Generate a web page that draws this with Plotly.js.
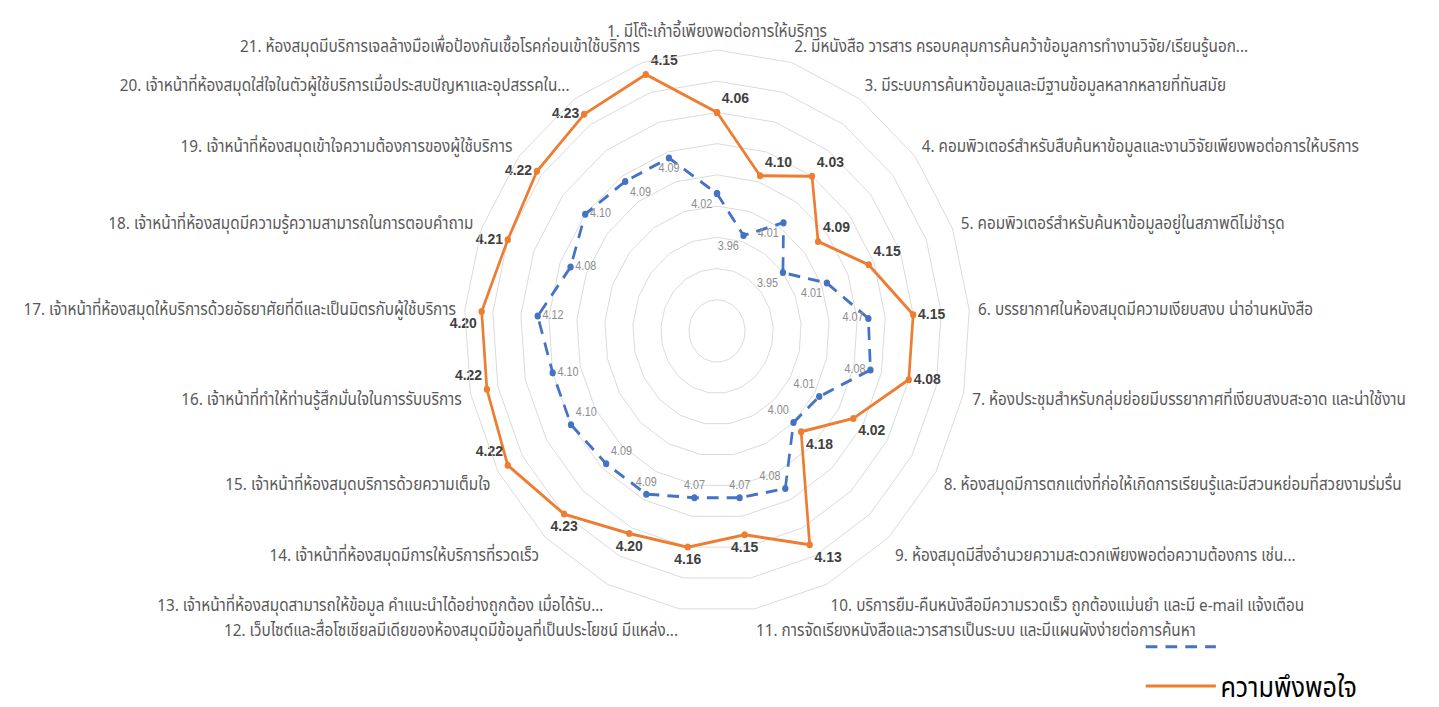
<!DOCTYPE html>
<html>
<head>
<meta charset="utf-8">
<script src="https://cdn.plot.ly/plotly-3.0.1.min.js"></script>
<style>
html,body{margin:0;padding:0;background:#ffffff;overflow:hidden;width:1439px;height:707px;}
#wrap{width:1439px;height:707px;overflow:hidden;position:relative;}
/* the reference picture is squeezed horizontally (its radar is an ellipse) */
#chart{width:1599px;height:707px;transform:scaleX(0.9);transform-origin:0 0;position:absolute;left:0;top:0;}
</style>
</head>
<body>
<div id="wrap"><div id="chart"></div></div>
<script>
// ---- data ----
const categories = [
  '1. มีโต๊ะเก้าอี้เพียงพอต่อการให้บริการ',
  '2. มีหนังสือ วารสาร ครอบคลุมการค้นคว้าข้อมูลการทำงานวิจัย/เรียนรู้นอก...',
  '3. มีระบบการค้นหาข้อมูลและมีฐานข้อมูลหลากหลายที่ทันสมัย',
  '4. คอมพิวเตอร์สำหรับสืบค้นหาข้อมูลและงานวิจัยเพียงพอต่อการให้บริการ',
  '5. คอมพิวเตอร์สำหรับค้นหาข้อมูลอยู่ในสภาพดีไม่ชำรุด',
  '6. บรรยากาศในห้องสมุดมีความเงียบสงบ น่าอ่านหนังสือ',
  '7. ห้องประชุมสำหรับกลุ่มย่อยมีบรรยากาศที่เงียบสงบสะอาด และน่าใช้งาน',
  '8. ห้องสมุดมีการตกแต่งที่ก่อให้เกิดการเรียนรู้และมีสวนหย่อมที่สวยงามร่มรื่น',
  '9. ห้องสมุดมีสิ่งอำนวยความสะดวกเพียงพอต่อความต้องการ เช่น...',
  '10. บริการยืม-คืนหนังสือมีความรวดเร็ว ถูกต้องแม่นยำ และมี e-mail แจ้งเตือน',
  '11. การจัดเรียงหนังสือและวารสารเป็นระบบ และมีแผนผังง่ายต่อการค้นหา',
  '12. เว็บไซต์และสื่อโซเชียลมีเดียของห้องสมุดมีข้อมูลที่เป็นประโยชน์ มีแหล่ง...',
  '13. เจ้าหน้าที่ห้องสมุดสามารถให้ข้อมูล คำแนะนำได้อย่างถูกต้อง เมื่อได้รับ...',
  '14. เจ้าหน้าที่ห้องสมุดมีการให้บริการที่รวดเร็ว',
  '15. เจ้าหน้าที่ห้องสมุดบริการด้วยความเต็มใจ',
  '16. เจ้าหน้าที่ทำให้ท่านรู้สึกมั่นใจในการรับบริการ',
  '17. เจ้าหน้าที่ห้องสมุดให้บริการด้วยอัธยาศัยที่ดีและเป็นมิตรกับผู้ใช้บริการ',
  '18. เจ้าหน้าที่ห้องสมุดมีความรู้ความสามารถในการตอบคำถาม',
  '19. เจ้าหน้าที่ห้องสมุดเข้าใจความต้องการของผู้ใช้บริการ',
  '20. เจ้าหน้าที่ห้องสมุดใส่ใจในตัวผู้ใช้บริการเมื่อประสบปัญหาและอุปสรรคใน...',
  '21. ห้องสมุดมีบริการเจลล้างมือเพื่อป้องกันเชื้อโรคก่อนเข้าใช้บริการ'
];
const expectationValues = [4.02, 3.96, 4.01, 3.95, 4.01, 4.07, 4.08, 4.01, 4.00, 4.08, 4.07,
                           4.07, 4.09, 4.09, 4.10, 4.10, 4.12, 4.08, 4.10, 4.09, 4.09];
const satisfactionValues = [4.15, 4.06, 4.10, 4.03, 4.09, 4.15, 4.15, 4.08, 4.02, 4.18, 4.13,
                            4.15, 4.16, 4.20, 4.23, 4.22, 4.22, 4.20, 4.21, 4.22, 4.23];
const expectationName = '';
const satisfactionName = 'ความพึงพอใจ';
const radialTicks = [3.80, 3.85, 3.90, 3.95, 4.00, 4.05, 4.10, 4.15, 4.20, 4.25];

// ---- styling: where each value label sits, as in the reference picture ----
const blueLabelPos = ['bottom left','bottom left','bottom left','bottom left','bottom left',
  'middle left','middle left','top left','top left','top left','top center','top center',
  'top center','top right','top right','middle right','middle right','middle right',
  'middle right','bottom right','bottom center'];
const orangeLabelPos = ['top right','top right','top right','top right','top right',
  'middle right','middle right','bottom right','bottom right','bottom right','bottom center',
  'bottom center','bottom center','bottom center','top left','top left','bottom left',
  'middle left','middle left','middle left','top right'];

const n = categories.length;
const close = a => a.concat([a[0]]);
const thetaC = close(categories);

const blueText = expectationValues.map(v => v.toFixed(2)).concat(['']);
// in the reference each orange value label sits beside the preceding point
const orangeText = satisfactionValues.map((v, i) => satisfactionValues[(i + 1) % n].toFixed(2)).concat(['']);

const numFont = 'Liberation Sans, Arial, sans-serif';
const thaiFont = 'Noto Sans Thai, Tahoma, Noto Sans, Liberation Sans, sans-serif';
const BLUE = '#4472C4', ORANGE = '#ED7D31';

const traces = [
  { // expectation line (legend entry)
    type: 'scatterpolar', name: expectationName, legendgroup: 'a',
    theta: thetaC, r: close(expectationValues), mode: 'lines',
    line: {color: BLUE, width: 3, dash: '13px,9px'}, hoverinfo: 'skip'
  },
  { // expectation markers + labels
    type: 'scatterpolar', name: expectationName, legendgroup: 'a', showlegend: false,
    theta: thetaC, r: close(expectationValues), mode: 'markers+text',
    marker: {color: BLUE, size: 7},
    text: blueText, textposition: blueLabelPos.concat(['top center']),
    textfont: {family: numFont, size: 12, color: '#8c8c8c'}, hoverinfo: 'skip'
  },
  { // satisfaction line (legend entry)
    type: 'scatterpolar', name: satisfactionName, legendgroup: 'b',
    theta: thetaC, r: close(satisfactionValues), mode: 'lines',
    line: {color: ORANGE, width: 3}, hoverinfo: 'skip'
  },
  { // satisfaction markers + labels
    type: 'scatterpolar', name: satisfactionName, legendgroup: 'b', showlegend: false,
    theta: thetaC, r: close(satisfactionValues), mode: 'markers+text',
    marker: {color: ORANGE, size: 7},
    text: orangeText, textposition: orangeLabelPos.concat(['top center']),
    textfont: {family: numFont, size: 15.5, color: '#404040', weight: 'bold'}, hoverinfo: 'skip'
  }
];

const W = 1599, H = 707, R = 281, cx = 796.7, cy = 331;
const layout = {
  width: W, height: H,
  margin: {l: 0, r: 0, t: 0, b: 0, autoexpand: false},
  paper_bgcolor: '#ffffff',
  font: {family: thaiFont, color: '#595959'},
  showlegend: true,
  legend: {
    x: 1268 / W, y: (H - 622) / H, xanchor: 'left', yanchor: 'top',
    font: {family: thaiFont, size: 28, color: '#000000'},
    tracegroupgap: 0, traceorder: 'grouped', itemwidth: 78,
    bgcolor: 'rgba(0,0,0,0)'
  },
  polar: {
    domain: {x: [(cx - R) / W, (cx + R) / W], y: [(H - cy - R) / H, (H - cy + R) / H]},
    bgcolor: '#ffffff',
    gridshape: 'linear',
    radialaxis: {
      range: [radialTicks[0], radialTicks[radialTicks.length - 1]],
      tickvals: radialTicks,
      showticklabels: false, ticks: '', showline: false,
      gridcolor: '#d9d9d9', gridwidth: 1
    },
    angularaxis: {
      type: 'category',
      direction: 'clockwise', rotation: 90,
      showgrid: false,
      ticks: 'outside', ticklen: 6, tickcolor: 'rgba(0,0,0,0)',
      showline: true, linecolor: '#d9d9d9', linewidth: 1,
      tickfont: {family: thaiFont, size: 17, color: '#595959'}
    }
  }
};

Plotly.newPlot('chart', traces, layout, {displayModeBar: false, staticPlot: true});
</script>
</body>
</html>
